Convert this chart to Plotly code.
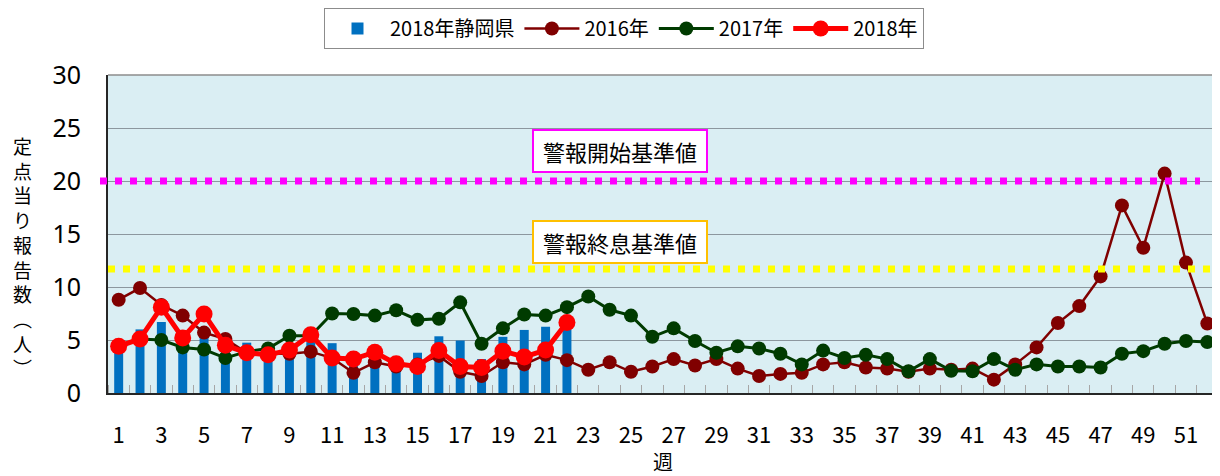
import plotly.graph_objects as go

weeks = list(range(1, 53))

bar_2018_shizuoka = [3.9, 6.0, 6.7, 5.0, 5.4, 4.5, 4.75, 4.0, 4.0, 4.8, 4.7, 3.0,
                     3.5, 2.8, 3.8, 5.35, 4.95, 3.2, 5.3, 5.95, 6.25, 6.1]

y2016 = [8.8, 9.9, 8.3, 7.3, 5.7, 5.1, 3.8, 3.7, 3.7, 3.9, 3.3, 1.9, 2.9, 2.5, 2.7,
         3.5, 2.0, 1.6, 2.9, 2.7, 3.6, 3.1, 2.2, 2.9, 2.0, 2.5, 3.2, 2.6, 3.2, 2.3,
         1.6, 1.8, 1.9, 2.7, 2.9, 2.4, 2.3, 2.0, 2.3, 2.2, 2.3, 1.26, 2.7, 4.3, 6.6,
         8.2, 11.0, 17.7, 13.7, 20.7, 12.3, 6.55]

y2017 = [4.4, 5.1, 5.0, 4.3, 4.1, 3.3, 3.9, 4.2, 5.4, 5.4, 7.5, 7.45, 7.3, 7.8, 6.9,
         7.0, 8.55, 4.65, 6.1, 7.4, 7.3, 8.1, 9.1, 7.85, 7.3, 5.3, 6.1, 4.9, 3.8, 4.4,
         4.2, 3.7, 2.7, 4.0, 3.3, 3.6, 3.2, 2.05, 3.2, 2.1, 2.05, 3.2, 2.2, 2.7, 2.5,
         2.5, 2.4, 3.7, 3.95, 4.65, 4.9, 4.8]

y2018 = [4.4, 5.1, 8.1, 5.2, 7.45, 4.5, 3.8, 3.6, 4.05, 5.5, 3.3, 3.2, 3.85, 2.75,
         2.5, 4.0, 2.5, 2.4, 3.95, 3.4, 4.05, 6.65]

alert_start = 20
alert_end = 11.7

xtick_vals = list(range(1, 52, 2))
ytick_vals = [0, 5, 10, 15, 20, 25, 30]

JP = "Noto Sans CJK JP"
NUM = "Liberation Sans Narrow, Noto Sans CJK JP"

# page is offset by the 8px body margin; figure is 1212x468
W, H = 1212, 468
L, R, T, B = 100, 2, 67, 83
PW, PH = W - L - R, H - T - B


def px_to_paper(px, py):
    # page pixel coords -> paper coords
    fx, fy = px - 8, py - 8
    return (fx - L) / PW, (H - B - fy) / PH


fig = go.Figure()
fig.add_trace(go.Bar(x=weeks[:len(bar_2018_shizuoka)], y=bar_2018_shizuoka,
                     name="2018年静岡県", marker=dict(color="#0070C0", line=dict(width=0)),
                     width=0.42))
fig.add_trace(go.Scatter(x=weeks, y=y2016, name="2016年", mode="lines+markers",
                         line=dict(color="#800000", width=2.5), cliponaxis=False,
                         marker=dict(color="#800000", size=14)))
fig.add_trace(go.Scatter(x=weeks, y=y2017, name="2017年", mode="lines+markers",
                         line=dict(color="#003B00", width=3), cliponaxis=False,
                         marker=dict(color="#003B00", size=14)))
fig.add_trace(go.Scatter(x=weeks[:len(y2018)], y=y2018, name="2018年", mode="lines+markers",
                         line=dict(color="#FF0000", width=5), cliponaxis=False,
                         marker=dict(color="#FF0000", size=17)))

mx0, _ = px_to_paper(100, 0)
mx1, _ = px_to_paper(1200, 0)
fig.add_shape(type="line", xref="paper", yref="y", x0=mx0, x1=mx1,
              y0=alert_start, y1=alert_start,
              line=dict(color="#FF00FF", width=7, dash="7px,8px"))
fig.add_shape(type="line", xref="paper", yref="y", x0=0.0, x1=1.0,
              y0=alert_end, y1=alert_end,
              line=dict(color="#FFFF00", width=7, dash="7px,8px"))

fig.add_annotation(x=24.5, y=22.8, xref="x", yref="y", text=" 警報開始基準値 ",
                   showarrow=False, font=dict(family=JP, size=22, color="black"),
                   bgcolor="white", bordercolor="#FF00FF", borderwidth=2, borderpad=4)
fig.add_annotation(x=24.5, y=14.2, xref="x", yref="y", text=" 警報終息基準値 ",
                   showarrow=False, font=dict(family=JP, size=22, color="black"),
                   bgcolor="white", bordercolor="#FFC000", borderwidth=2, borderpad=4)

ytitle = "<br>".join(list("定点当り報告数")) + "<br>︵<br>人<br>︶"
tx, ty = px_to_paper(22, 256)
fig.add_annotation(x=tx, y=ty, xref="paper", yref="paper", text=ytitle,
                   xanchor="center", yanchor="middle",
                   showarrow=False, font=dict(family=JP, size=19, color="black"))

lx, ly = px_to_paper(624, 8)
fig.update_layout(
    width=W, height=H,
    margin=dict(l=L, r=R, t=T, b=B, autoexpand=False),
    paper_bgcolor="white", plot_bgcolor="#DAEEF3",
    showlegend=True,
    legend=dict(orientation="h", x=lx, xanchor="center", y=ly, yanchor="top",
                font=dict(family=JP, size=20, color="black"),
                bordercolor="#8C8C8C", borderwidth=1, bgcolor="white",
                itemwidth=55, tracegroupgap=0),
    xaxis=dict(range=[0.5, 52.5], tickvals=xtick_vals, ticktext=[str(v) for v in xtick_vals],
               ticks="", showgrid=False, zeroline=False,
               showline=True, linecolor="#262626", linewidth=2, mirror=False,
               tickfont=dict(family=NUM, size=22, color="black"),
               ticklabelstandoff=22,
               minor=dict(ticks="inside", tick0=0.5, dtick=1, ticklen=8,
                          tickcolor="#A6A6A6", tickwidth=1, showgrid=False),
               title=dict(text="週", font=dict(family=JP, size=20, color="black"),
                          standoff=4)),
    yaxis=dict(range=[0, 30], tickvals=ytick_vals, showgrid=True, gridcolor="#8C979E",
               gridwidth=1, zeroline=False, showline=True, linecolor="#262626",
               linewidth=2, ticks="", tickfont=dict(family="Noto Sans", size=25, color="black"),
               ticklabelstandoff=20),
)

# top/right frame in lighter gray
fig.add_shape(type="line", xref="paper", yref="paper", x0=0, x1=1, y0=1, y1=1,
              line=dict(color="#8C8C8C", width=1.5))
fig.add_shape(type="line", xref="paper", yref="paper", x0=1, x1=1, y0=0, y1=1,
              line=dict(color="#8C8C8C", width=1.5))

fig.write_html("out.html")
